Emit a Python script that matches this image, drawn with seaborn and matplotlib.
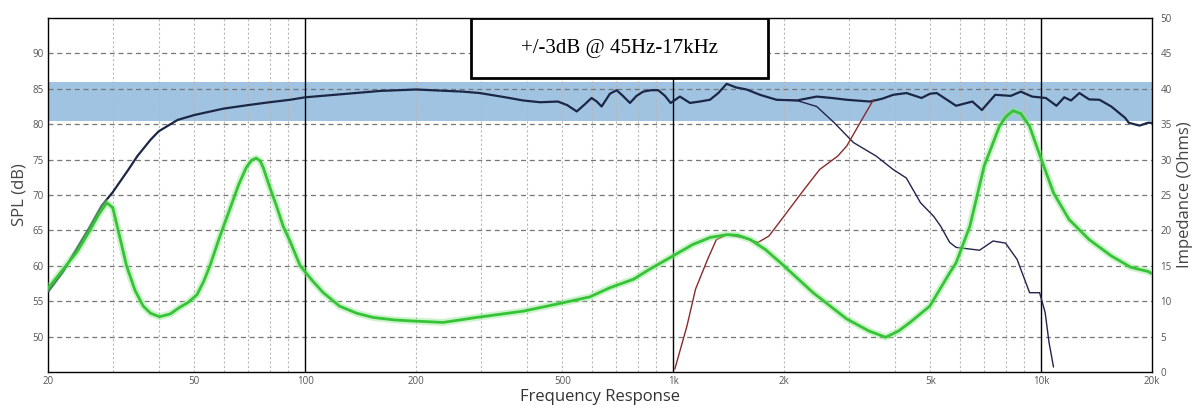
import matplotlib
matplotlib.use("Agg")
import matplotlib.pyplot as plt
import matplotlib.ticker as mticker
from matplotlib.patches import Rectangle
import seaborn as sns
import pandas as pd

# total system SPL (Hz, dB)
total_freq = [20, 22, 24, 26, 28, 30, 33, 35, 38, 40, 45, 50, 60, 70, 80, 91, 100, 130, 160, 200,
              268, 298, 350, 391, 435, 486, 515, 547, 575, 600, 620, 639, 673, 702, 730, 763, 795,
              829, 870, 911, 950, 984, 1043, 1111, 1180, 1259, 1326, 1397, 1480, 1583, 1721, 1909,
              2166, 2454, 2700, 2960, 3425, 3700, 3960, 4306, 4729, 4985, 5200, 5640, 5870, 6500,
              6900, 7500, 8270, 8800, 9450, 10300, 11000, 11550, 12050, 12700, 13500, 14400, 15500,
              16900, 17300, 18500, 19500, 20000]
total_spl = [56.3, 59.2, 62.5, 65.5, 68.5, 70.4, 73.5, 75.5, 77.8, 79.0, 80.6, 81.3, 82.2, 82.7, 83.1,
             83.45, 83.8, 84.3, 84.7, 84.9, 84.6, 84.4, 83.8, 83.35, 83.1, 83.2, 82.7, 81.8, 82.8,
             83.7, 83.2, 82.5, 84.3, 84.8, 84.0, 83.0, 84.0, 84.6, 84.8, 84.8, 84.0, 83.0, 83.9,
             83.0, 83.2, 83.45, 84.4, 85.7, 85.2, 84.9, 84.15, 83.45, 83.35, 83.9, 83.7, 83.45,
             83.2, 83.6, 84.15, 84.4, 83.7, 84.3, 84.4, 83.2, 82.6, 83.2, 82.0, 84.15, 84.0, 84.6,
             83.9, 83.7, 82.6, 83.8, 83.35, 84.4, 83.5, 83.45, 82.5, 80.9, 80.2, 79.8, 80.2, 80.2]

# woofer branch after the crossover
woofer_freq = [1909, 2166, 2454, 2740, 3090, 3560, 3960, 4300, 4700, 5100, 5330, 5640, 5870, 6800,
               7400, 8000, 8600, 9300, 9900, 10250, 10500, 10800]
woofer_spl = [83.45, 83.35, 82.5, 80.2, 77.4, 75.5, 73.6, 72.4, 68.9, 67.0, 65.6, 63.3, 62.6, 62.2,
              63.5, 63.2, 60.9, 56.2, 56.2, 53.4, 49.2, 45.7]

# tweeter
tweeter_freq = [1010, 1090, 1150, 1240, 1310, 1400, 1540, 1700, 1820, 2000, 2270, 2500, 2800, 2960,
                3220, 3500]
tweeter_spl = [45.4, 51.5, 56.7, 60.9, 63.7, 64.4, 64.0, 63.3, 64.2, 67.0, 70.8, 73.6, 75.5, 76.9,
               80.2, 83.45]

# impedance (Hz, Ohms)
imp_freq = [20, 22, 24, 26, 27.5, 28.9, 30, 31.2, 32.7, 34.5, 36.3, 38, 40.2, 43, 45.5, 48, 50.8,
            53, 55.1, 58.5, 62.4, 66, 69.2, 71.5, 73.6, 75.5, 77, 80, 83.5, 87.1, 90.9, 96.9, 105,
            112, 124, 138, 153, 175, 196, 237, 292, 392, 504, 593, 673, 780, 862, 984, 1130, 1260,
            1400, 1500, 1620, 1780, 1960, 2400, 2960, 3400, 3780, 4100, 4400, 4980, 5640, 5870,
            6400, 7000, 7700, 8000, 8380, 8800, 9300, 9900, 10800, 11900, 13500, 15500, 17500,
            19500, 20000]
imp_ohm = [11.8, 14.5, 17.0, 20.0, 22.3, 23.9, 23.2, 19.5, 15.0, 11.5, 9.3, 8.3, 7.8, 8.2, 9.1, 9.8,
           10.9, 12.8, 15.0, 19.0, 23.0, 26.5, 28.9, 29.9, 30.2, 29.8, 28.8, 26.2, 23.5, 20.6, 18.5,
           15.0, 12.8, 11.2, 9.3, 8.3, 7.7, 7.35, 7.2, 7.0, 7.7, 8.6, 9.8, 10.6, 11.9, 13.1, 14.5,
           16.2, 18.0, 19.0, 19.4, 19.3, 18.7, 17.3, 15.4, 11.2, 7.5, 5.8, 4.9, 5.8, 7.0, 9.3, 14.0,
           15.4, 20.6, 29.1, 34.7, 36.0, 36.9, 36.5, 34.7, 30.7, 25.3, 21.55, 18.7, 16.4, 14.8,
           14.2, 13.9]

band = (80.5, 86.0)
freq_ticks = [20, 50, 100, 200, 500, 1000, 2000, 5000, 10000, 20000]
freq_labels = ["20", "50", "100", "200", "500", "1k", "2k", "5k", "10k", "20k"]
decades = [100, 1000, 10000]

sns.set_theme(style="white")
plt.rcParams["font.family"] = ["Open Sans", "DejaVu Sans"]

fig = plt.figure(figsize=(11.96, 4.09), dpi=100)
ax = fig.add_axes([0.0401, 0.0905, 0.9231, 0.8655])
ax.axhspan(band[0], band[1], color="#4a8cc8", alpha=0.52, lw=0, zorder=0.5)
for d in decades:
    ax.axvline(d, color="black", lw=1.0, zorder=1)

sns.lineplot(x=total_freq, y=total_spl, ax=ax, color="#1b2745", lw=1.6, zorder=3)
sns.lineplot(x=woofer_freq, y=woofer_spl, ax=ax, color="#23234f", lw=1.0, zorder=3)
sns.lineplot(x=tweeter_freq, y=tweeter_spl, ax=ax, color="#8a2a2a", lw=1.0, zorder=3)

ax2 = ax.twinx()
imp = pd.DataFrame({"freq": imp_freq, "ohm": imp_ohm})
sns.lineplot(data=imp, x="freq", y="ohm", ax=ax2, color="#8fe68f", lw=5, alpha=0.45)
sns.lineplot(data=imp, x="freq", y="ohm", ax=ax2, color="#35c435", lw=2.0)

ax.set_xscale("log")
ax.set_xlim(20, 20000)
ax.set_ylim(45, 95)
ax2.set_ylim(0, 50)
ax.xaxis.set_major_locator(mticker.FixedLocator(freq_ticks))
ax.xaxis.set_major_formatter(mticker.FixedFormatter(freq_labels))
ax.xaxis.set_minor_locator(mticker.LogLocator(base=10, subs=range(1, 10)))
ax.xaxis.set_minor_formatter(mticker.NullFormatter())
ax.set_yticks([50, 55, 60, 65, 70, 75, 80, 85, 90])
ax2.set_yticks(range(0, 55, 5))
ax.grid(True, which="both", axis="x", color="#b8b8b8", ls=(0, (2, 2)), lw=0.8)
ax.grid(True, which="major", axis="y", color="#777777", ls=(0, (4, 3)), lw=0.9)
ax2.grid(False)

ax.tick_params(axis="both", which="both", length=0, labelsize=7, labelcolor="#555555", pad=3)
ax2.tick_params(axis="y", length=0, labelsize=7, labelcolor="#555555", pad=6)
for s in ax.spines.values():
    s.set_color("black")
    s.set_linewidth(1.0)
for s in ax2.spines.values():
    s.set_visible(False)

ax.set_xlabel("Frequency Response", fontsize=12, color="#333333", va="center")
ax.xaxis.set_label_coords(0.5, -0.07)
ax.set_ylabel("SPL (dB)", fontsize=12, color="#444444", va="center")
ax.yaxis.set_label_coords(-0.026, 0.5)
ax2.set_ylabel("Impedance (Ohms)", fontsize=12, color="#444444", rotation=90, va="center", ha="center")
ax2.yaxis.set_label_coords(1.03, 0.5)

ax2.add_patch(Rectangle((0.383, 0.8305), 0.269, 0.1695, transform=ax2.transAxes,
                        facecolor="white", edgecolor="black", lw=2, zorder=5))
ax2.text(0.5177, 0.915, "+/-3dB @ 45Hz-17kHz", transform=ax2.transAxes, ha="center", va="center",
         fontsize=15, family=["Liberation Serif", "DejaVu Serif"], color="black", zorder=6)

fig.savefig("out.png", dpi=100)
